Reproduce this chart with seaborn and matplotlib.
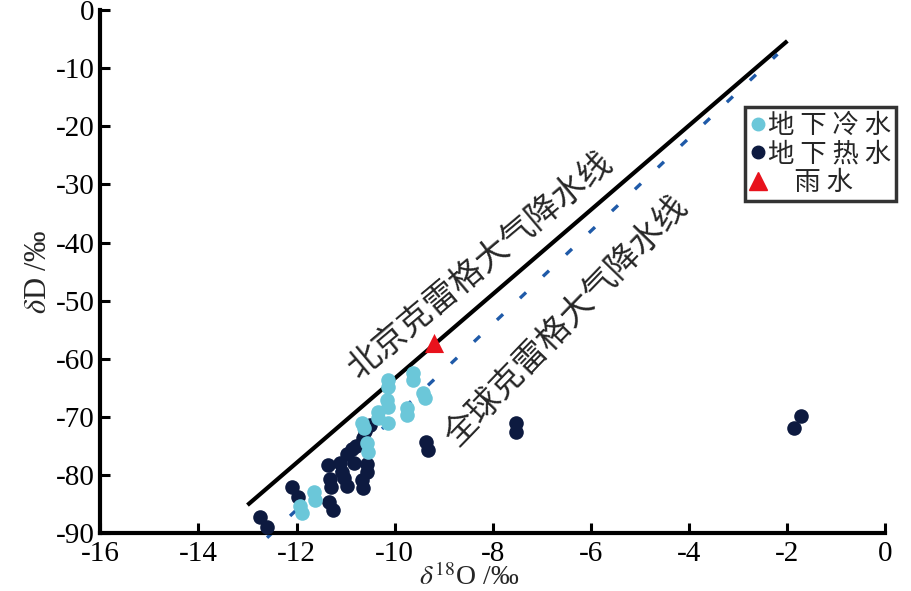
import matplotlib
matplotlib.use("Agg")
import numpy as np
import pandas as pd
import seaborn as sns
from matplotlib import pyplot as plt
from matplotlib.lines import Line2D

# cold groundwater (地下冷水)
cold_d18o = [-10.13, -10.13, -9.62, -9.62, -9.42, -9.38, -10.15, -10.13, -9.74, -9.74,
             -10.35, -10.35, -10.13, -10.66, -10.62, -10.56, -10.54, -11.64, -11.62, -11.92, -11.88]
cold_dd = [-63.7, -64.9, -62.5, -63.7, -65.9, -66.8, -67.1, -68.3, -68.5, -69.7,
           -69.2, -70.2, -71.1, -71.1, -71.9, -74.5, -76.1, -83.0, -84.3, -85.4, -86.6]

# thermal groundwater (地下热水)
hot_d18o = [-12.74, -12.60, -12.09, -11.98, -11.35, -11.31, -11.29, -11.33, -11.25, -11.11,
            -11.07, -11.03, -10.97, -10.97, -10.88, -10.78, -10.82, -10.64, -10.60, -10.50,
            -10.56, -10.56, -10.66, -10.64, -9.36, -9.33, -7.52, -7.52, -1.87, -1.73]
hot_dd = [-87.3, -89.0, -82.1, -83.8, -78.3, -80.7, -82.1, -84.7, -86.1, -78.0,
          -79.5, -80.6, -81.9, -76.4, -75.6, -75.0, -78.0, -73.7, -72.5, -71.4,
          -78.1, -79.5, -80.9, -82.3, -74.4, -75.7, -71.1, -72.6, -71.9, -69.9]

# rain (雨水)
rain_d18o = [-9.2]
rain_dd = [-57.3]

# meteoric water lines: slope, intercept, x range
bj_slope, bj_icpt, bj_x = 7.26, 9.2, [-13.0, -2.0]
gl_slope, gl_icpt, gl_x = 8.0, 10.0, [-12.6, -2.2]

x_ticks = [-16, -14, -12, -10, -8, -6, -4, -2, 0]
y_ticks = [0, -10, -20, -30, -40, -50, -60, -70, -80, -90]

c_cold = "#6bc7d9"
c_hot = "#0d1a40"
c_rain = "#e8121c"
c_gmwl = "#1f5aa8"

sns.set_theme(style="white")
plt.rcParams["font.family"] = ["Liberation Serif", "Noto Sans CJK SC", "DejaVu Sans"]
plt.rcParams["mathtext.fontset"] = "stix"
cjk = ["Noto Sans CJK SC", "DejaVu Sans"]

fig = plt.figure(figsize=(9.11, 5.91), dpi=100)
ax = fig.add_axes([0.110, 0.098, 0.862, 0.885])

bj = pd.DataFrame({"x": bj_x})
bj["y"] = bj_slope * bj["x"] + bj_icpt
gl = pd.DataFrame({"x": gl_x})
gl["y"] = gl_slope * gl["x"] + gl_icpt

ax.plot(bj["x"], bj["y"], color="black", lw=3.0, solid_capstyle="butt", zorder=2)
ax.plot(gl["x"], gl["y"], color=c_gmwl, lw=2.4, dashes=(2.5, 7), zorder=2, clip_on=False)

cold = pd.DataFrame({"x": cold_d18o, "y": cold_dd})
hot = pd.DataFrame({"x": hot_d18o, "y": hot_dd})
rain = pd.DataFrame({"x": rain_d18o, "y": rain_dd})
sns.scatterplot(data=hot, x="x", y="y", ax=ax, color=c_hot, s=110, linewidth=0, zorder=3, clip_on=False)
sns.scatterplot(data=cold, x="x", y="y", ax=ax, color=c_cold, s=110, linewidth=0, zorder=4, clip_on=False)
sns.scatterplot(data=rain, x="x", y="y", ax=ax, color=c_rain, marker="^", s=190, linewidth=0, zorder=5)

ax.text(-8.25, -43.9, "北京克雷格大气降水线", family=cjk, fontsize=24, rotation=40,
        rotation_mode="anchor", ha="center", va="center")
ax.text(-6.5, -53.6, "全球克雷格大气降水线", family=cjk, fontsize=24, rotation=46,
        rotation_mode="anchor", ha="center", va="center")

ax.set_xlim(-16, 0)
ax.set_ylim(-90, 0)
ax.set_xticks(x_ticks)
ax.set_yticks(y_ticks)
ax.set_xticklabels([str(t) for t in x_ticks])
ax.set_yticklabels([str(t) for t in y_ticks])
ax.tick_params(direction="in", length=7, width=2.2, labelsize=21, colors="black", pad=4)
ax.tick_params(axis="x", bottom=True, pad=6)
ax.tick_params(axis="y", left=True)
for side in ["top", "right"]:
    ax.spines[side].set_visible(False)
for side in ["left", "bottom"]:
    ax.spines[side].set_linewidth(3)
    ax.spines[side].set_color("black")

ax.set_xlabel(r"$\delta^{18}$O /‰", fontsize=20)
ax.set_ylabel(r"$\delta$D /‰", fontsize=22, labelpad=2)
ax.xaxis.set_label_coords(0.47, -0.058)

handles = [
    Line2D([], [], ls="", marker="o", ms=9, color=c_cold),
    Line2D([], [], ls="", marker="o", ms=9, color=c_hot),
    Line2D([], [], ls="", marker="^", ms=13, color=c_rain),
]
leg = fig.legend(handles, ["地 下 冷 水", "地 下 热 水", "\u3000雨 水"], loc="upper left",
                 bbox_to_anchor=(0.818, 0.819), bbox_transform=fig.transFigure,
                 prop={"family": cjk, "size": 19}, frameon=True, fancybox=False,
                 edgecolor="black", handlelength=0.6, handletextpad=0.05,
                 borderpad=0.2, labelspacing=0.05, borderaxespad=0)
leg.get_frame().set_linewidth(2.5)

fig.savefig("out.png", dpi=100)
